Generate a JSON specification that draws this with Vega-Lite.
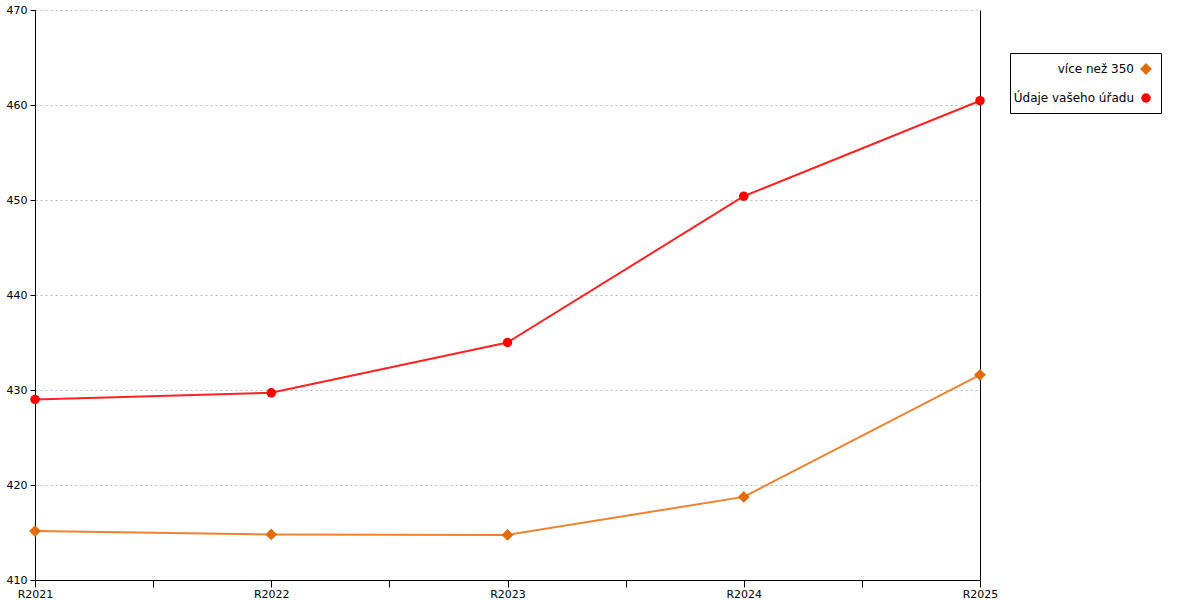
{
  "$schema": "https://vega.github.io/schema/vega-lite/v6.json",
  "autosize": {"type": "none"},
  "width": 945,
  "height": 570,
  "padding": {"left": 35, "top": 10, "right": 220, "bottom": 20},
  "background": "white",
  "config": {
    "view": {"stroke": null},
    "font": "DejaVu Sans",
    "axis": {"labelFont": "DejaVu Sans", "labelFontSize": 11, "labelColor": "#000", "domainColor": "#000", "tickColor": "#000", "titleFontSize": 11}
  },
  "data": {
    "values": [
      {"series": "více než 350", "year": 2021, "value": 415.15},
      {"series": "více než 350", "year": 2022, "value": 414.8},
      {"series": "více než 350", "year": 2023, "value": 414.75},
      {"series": "více než 350", "year": 2024, "value": 418.75},
      {"series": "více než 350", "year": 2025, "value": 431.6},
      {"series": "Údaje vašeho úřadu", "year": 2021, "value": 429.0},
      {"series": "Údaje vašeho úřadu", "year": 2022, "value": 429.7},
      {"series": "Údaje vašeho úřadu", "year": 2023, "value": 435.0},
      {"series": "Údaje vašeho úřadu", "year": 2024, "value": 450.4},
      {"series": "Údaje vašeho úřadu", "year": 2025, "value": 460.45}
    ]
  },
  "encoding": {
    "x": {
      "field": "year", "type": "quantitative",
      "scale": {"domain": [2021, 2025], "nice": false, "zero": false},
      "axis": {
        "title": null,
        "values": [2021, 2021.5, 2022, 2022.5, 2023, 2023.5, 2024, 2024.5, 2025],
        "labelExpr": "datum.value % 1 == 0 ? 'R' + datum.value : ''",
        "grid": false,
        "tickSize": 7,
        "tickOffset": 0,
        "labelPadding": 1,
        "labelFlush": false,
        "labelOverlap": false
      }
    },
    "y": {
      "field": "value", "type": "quantitative",
      "scale": {"domain": [410, 470], "nice": false, "zero": false}
    }
  },
  "layer": [
    {
      "transform": [{"filter": "datum.series == 'více než 350'"}],
      "mark": {"type": "line", "strokeWidth": 2, "color": "#ee8230"},
      "encoding": {
        "y": {
          "field": "value", "type": "quantitative",
          "axis": {
            "title": null, "orient": "left", "values": [410, 420, 430, 440, 450, 460, 470],
            "grid": true, "gridColor": "#bbbbbb", "gridDash": [2, 3], "gridWidth": 1,
            "tickSize": 5, "labelPadding": 3
          }
        }
      }
    },
    {
      "transform": [{"filter": "datum.series == 'Údaje vašeho úřadu'"}],
      "mark": {"type": "line", "strokeWidth": 2, "color": "#ff2222"},
      "encoding": {
        "y": {
          "field": "value", "type": "quantitative",
          "axis": {"orient": "right", "title": null, "labels": false, "ticks": false, "grid": false, "domain": true}
        }
      }
    },
    {
      "mark": {"type": "point", "filled": true, "opacity": 1},
      "encoding": {
        "y": {
          "field": "value", "type": "quantitative",
          "axis": null
        },
        "color": {
          "field": "series", "type": "nominal",
          "scale": {"domain": ["více než 350", "Údaje vašeho úřadu"], "range": ["#e06c0c", "#ff0000"]},
          "legend": {
            "title": null,
            "orient": "none",
            "legendX": 975,
            "legendY": 43,
            "strokeColor": "#000",
            "fillColor": "white",
            "padding": 9,
            "labelFont": "DejaVu Sans",
            "labelFontSize": 12,
            "labelColor": "#000",
            "labelAlign": "right",
            "labelOffset": -19,
            "symbolOffset": 120,
            "rowPadding": 17
          }
        },
        "shape": {
          "field": "series", "type": "nominal",
          "scale": {"domain": ["více než 350", "Údaje vašeho úřadu"], "range": ["diamond", "circle"]}
        },
        "size": {
          "field": "series", "type": "nominal",
          "scale": {"domain": ["více než 350", "Údaje vašeho úřadu"], "range": [140, 90]}
        }
      }
    }
  ],
  "resolve": {"axis": {"y": "independent"}}
}
